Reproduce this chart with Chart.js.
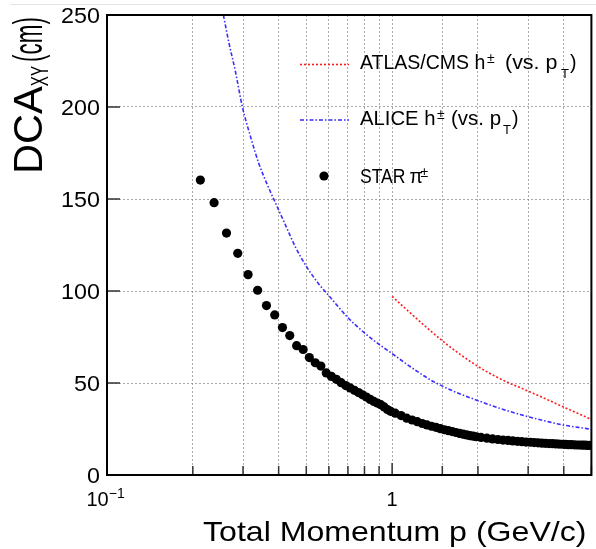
<!DOCTYPE html>
<html>
<head>
<meta charset="utf-8">
<script src="https://cdn.jsdelivr.net/npm/chart.js@4.4.1/dist/chart.umd.min.js"></script>
<style>
  html, body { margin: 0; padding: 0; background: #fff; }
  canvas { display: block; }
</style>
</head>
<body>
<canvas id="dca-chart" width="596" height="549"></canvas>
<script>
// STAR pi+- points: total momentum p (GeV/c) and DCA_XY (cm)
const starMomentum = [
    0.2125, 0.2375, 0.2625, 0.2875, 0.3125, 0.3375, 0.3625, 0.3875, 0.4125, 0.4375,
    0.4625, 0.4875, 0.5125, 0.5375, 0.5625, 0.5875, 0.6125, 0.6375, 0.6625, 0.6875,
    0.7125, 0.7375, 0.7625, 0.7875, 0.8125, 0.8375, 0.8625, 0.8875, 0.9125, 0.9375,
    0.9625, 0.9875, 1.025, 1.075, 1.125, 1.175, 1.225, 1.275, 1.325, 1.375,
    1.425, 1.475, 1.525, 1.575, 1.625, 1.675, 1.725, 1.775, 1.825, 1.875,
    1.925, 1.975, 2.05, 2.15, 2.25, 2.35, 2.45, 2.55, 2.65, 2.75,
    2.85, 2.95, 3.05, 3.15, 3.25, 3.35, 3.45, 3.55, 3.65, 3.75,
    3.85, 3.95, 4.05, 4.15, 4.25, 4.35, 4.45, 4.55, 4.65, 4.75,
    4.85, 4.95
];
const starDca = [
    160.3, 148.0, 131.5, 120.5, 108.9, 100.4, 92.1, 87.0, 80.1, 75.8,
    70.3, 68.2, 63.8, 61.0, 59.2, 55.5, 53.6, 52.0, 50.2, 48.6,
    47.3, 46.0, 44.8, 43.6, 42.4, 41.1, 40.0, 39.1, 38.2, 37.0,
    35.6, 34.6, 33.6, 32.3, 30.9, 29.9, 29.0, 28.0, 27.2, 26.5,
    25.9, 25.2, 24.6, 24.1, 23.6, 23.1, 22.6, 22.2, 21.8, 21.4,
    21.1, 20.8, 20.4, 20.0, 19.6, 19.3, 19.0, 18.8, 18.5, 18.3,
    18.1, 17.9, 17.8, 17.6, 17.5, 17.3, 17.2, 17.1, 17.0, 16.9,
    16.8, 16.7, 16.6, 16.5, 16.5, 16.4, 16.3, 16.3, 16.2, 16.2,
    16.1, 16.1
];

// ALICE h+- (vs. pT)
const aliceMomentum = [0.256, 0.268, 0.2815, 0.2985, 0.319, 0.341, 0.368, 0.390, 0.423, 0.458,
    0.506, 0.552, 0.598, 0.70, 0.80, 0.90, 1.0, 1.14, 1.37, 1.65, 2.0, 2.4, 3.0, 3.5, 4.0, 4.82, 5.0];
const aliceDca = [250, 234.5, 220, 200, 183.7, 169.2, 156.5, 147.8, 135.7, 123.9,
    112.2, 104, 97.7, 85.5, 77.2, 71, 66, 59.6, 51.5, 45.4, 40.4, 36.1, 31.7, 29.1, 27.1, 25.2, 24.8];

// ATLAS/CMS h+- (vs. pT)
const atlasMomentum = [1.0, 1.137, 1.335, 1.567, 2.0, 2.4, 3.0, 3.5, 4.0, 5.0];
const atlasDca = [97.1, 89.2, 79.6, 70.6, 59.0, 52.2, 45.6, 41.0, 36.9, 30.2];

// Axis ticks
const yTickValues = [0, 50, 100, 150, 200, 250];
const xTickValues = [0.1, 1];
const xTickBase = ['10', '1'];
const xTickExp = ['\u22121', ''];

const FONT = '"Liberation Sans", Arial, Helvetica, sans-serif';
const RED = '#ff1a1a';
const BLUE = '#3b2cff';

function toPoints(xs, ys) {
    return xs.map((x, i) => ({ x: x, y: ys[i] }));
}

// Draw text with optional rotation and stretch along the text direction
function drawText(ctx, text, x, y, size, opts = {}) {
    const sx = opts.sx || 1;
    ctx.save();
    ctx.font = size + 'px ' + FONT;
    ctx.fillStyle = '#000';
    ctx.textAlign = opts.align || 'left';
    ctx.textBaseline = 'alphabetic';
    ctx.translate(x, y);
    if (opts.rotate) ctx.rotate(opts.rotate);
    ctx.scale(sx, 1);
    ctx.fillText(text, 0, 0);
    const w = ctx.measureText(text).width * sx;
    ctx.restore();
    return w;
}

const rootStyle = {
    id: 'rootStyle',
    afterDraw(chart) {
        const ctx = chart.ctx;
        const area = chart.chartArea;
        const xs = chart.scales.x;
        const ys = chart.scales.y;

        // faint line at very top of the picture
        ctx.save();
        ctx.strokeStyle = '#e4e4e4';
        ctx.lineWidth = 1;
        ctx.beginPath();
        ctx.moveTo(10, 4.5);
        ctx.lineTo(596, 4.5);
        ctx.stroke();
        ctx.restore();

        // tick marks
        ctx.save();
        ctx.strokeStyle = '#333';
        ctx.lineWidth = 1.5;
        ctx.beginPath();
        yTickValues.forEach(v => {
            const y = ys.getPixelForValue(v);
            ctx.moveTo(area.left, y);
            ctx.lineTo(area.left + 13, y);
        });
        xs.ticks.forEach(t => {
            const x = xs.getPixelForValue(t.value);
            const len = t.value === 1 ? 12 : 9;
            ctx.moveTo(x, area.bottom);
            ctx.lineTo(x, area.bottom - len);
        });
        ctx.stroke();
        ctx.restore();

        // frame
        ctx.save();
        ctx.strokeStyle = '#000';
        ctx.lineWidth = 2;
        ctx.strokeRect(area.left, area.top, area.right - area.left, area.bottom - area.top);
        ctx.restore();

        // y tick labels
        yTickValues.forEach(v => {
            drawText(ctx, String(v), 100, ys.getPixelForValue(v) + 8, 22, { align: 'right', sx: 1.06 });
        });

        // x tick labels
        xTickValues.forEach((v, i) => {
            const x = xs.getPixelForValue(v);
            if (xTickExp[i]) {
                const w = drawText(ctx, xTickBase[i], x - 20.5, 506, 20);
                drawText(ctx, xTickExp[i], x - 20.5 + w, 498, 14);
            } else {
                drawText(ctx, xTickBase[i], x, 506, 20, { align: 'center' });
            }
        });

        // axis titles
        drawText(ctx, 'Total Momentum p (GeV/c)', 203, 541, 28.5, { sx: 1.126 });
        const rot = -Math.PI / 2;
        let w = drawText(ctx, 'DCA', 42, 174, 40, { rotate: rot, sx: 1.04 });
        w += drawText(ctx, 'XY', 48, 174 - w, 23, { rotate: rot, sx: 0.66 });
        w += 4;
        drawText(ctx, '(cm)', 42, 174 - w, 40, { rotate: rot, sx: 0.56 });

        // legend
        const sample = (y, color, dash) => {
            ctx.save();
            ctx.strokeStyle = color;
            ctx.lineWidth = 1.6;
            ctx.setLineDash(dash);
            ctx.beginPath();
            ctx.moveTo(300, y);
            ctx.lineTo(349, y);
            ctx.stroke();
            ctx.restore();
        };
        sample(64.5, RED, [2, 2]);
        sample(120, BLUE, [4, 2, 1.5, 2]);
        ctx.save();
        ctx.fillStyle = '#000';
        ctx.beginPath();
        ctx.arc(324, 176, 4.6, 0, Math.PI * 2);
        ctx.fill();
        ctx.restore();

        drawText(ctx, 'ATLAS/CMS h', 360, 69, 19.5);
        drawText(ctx, '\u00b1', 487, 63, 14);
        drawText(ctx, '(vs. p', 505, 69, 19.5, { sx: 1.1 });
        drawText(ctx, 'T', 561, 78, 13);
        drawText(ctx, ')', 570, 69, 19.5);

        drawText(ctx, 'ALICE h', 360, 125, 19.5, { sx: 1.04 });
        drawText(ctx, '\u00b1', 437, 119, 14);
        drawText(ctx, '(vs. p', 451, 125, 19.5, { sx: 1.05 });
        drawText(ctx, 'T', 503, 134, 13);
        drawText(ctx, ')', 512, 125, 19.5);

        const sw = drawText(ctx, 'STAR', 360, 183, 19.5, { sx: 0.9 });
        drawText(ctx, '\u03c0', 360 + sw + 4, 183, 19.5);
        drawText(ctx, '\u00b1', 360 + sw + 15, 177, 14);
    }
};

const chart = new Chart(document.getElementById('dca-chart'), {
    type: 'scatter',
    data: {
        datasets: [
            {
                label: 'STAR',
                data: toPoints(starMomentum, starDca),
                backgroundColor: '#000',
                borderWidth: 0,
                pointRadius: 4.6,
                showLine: false
            },
            {
                label: 'ALICE',
                data: toPoints(aliceMomentum, aliceDca),
                showLine: true,
                borderColor: BLUE,
                borderWidth: 1.6,
                borderDash: [4, 2, 1.5, 2],
                pointRadius: 0,
                cubicInterpolationMode: 'monotone'
            },
            {
                label: 'ATLAS/CMS',
                data: toPoints(atlasMomentum, atlasDca),
                showLine: true,
                borderColor: RED,
                borderWidth: 1.6,
                borderDash: [2, 2],
                pointRadius: 0,
                cubicInterpolationMode: 'monotone'
            }
        ]
    },
    options: {
        responsive: false,
        animation: false,
        events: [],
        layout: { padding: { left: 107, top: 15, right: 1, bottom: 74 } },
        plugins: { legend: { display: false }, tooltip: { enabled: false } },
        scales: {
            x: {
                type: 'logarithmic',
                min: 0.1,
                max: 5,
                ticks: { display: false },
                grid: { color: 'rgba(140,140,140,0.75)', lineWidth: 1, drawTicks: false, tickLength: 0 },
                border: { display: false, dash: [2, 2] }
            },
            y: {
                type: 'linear',
                min: 0,
                max: 250,
                ticks: { display: false, stepSize: 50 },
                grid: { color: 'rgba(140,140,140,0.75)', lineWidth: 1, drawTicks: false, tickLength: 0 },
                border: { display: false, dash: [2, 2] }
            }
        }
    },
    plugins: [rootStyle]
});
</script>
</body>
</html>
